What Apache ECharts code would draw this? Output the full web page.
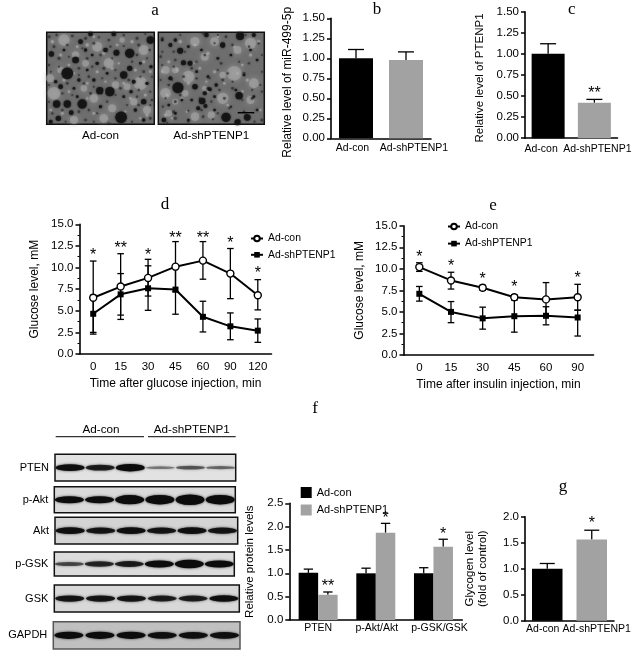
<!DOCTYPE html>
<html>
<head>
<meta charset="utf-8">
<style>
  html, body { margin: 0; padding: 0; background: #fff; }
  #main { width: 633px; height: 656px; }
</style>
</head>
<body>
<div id="main"></div>
<script src="https://cdn.jsdelivr.net/npm/echarts@6/dist/echarts.min.js"></script>
<script>
const groups = ['Ad-con', 'Ad-shPTENP1'];

// b, c, g: simple two bar panels
const bMeans = [1.0, 0.98], bTops = [1.11, 1.08];
const cMeans = [1.0, 0.42], cTops = [1.12, 0.46];
const gMeans = [1.0, 1.56], gTops = [1.1, 1.74];

// d: glucose tolerance
const dTimes = ['0', '15', '30', '45', '60', '90', '120'];
const dCon = [6.5, 7.8, 8.8, 10.1, 10.8, 9.3, 6.8];
const dConHi = [10.75, 11.6, 10.95, 13.0, 13.0, 12.2, 8.6];
const dConLo = [2.3, 4.0, 6.7, 7.2, 8.65, 6.4, 5.1];
const dSh = [4.65, 6.9, 7.6, 7.45, 4.3, 3.2, 2.7];
const dShHi = [6.8, 9.3, 10.2, 10.3, 6.1, 4.75, 4.05];
const dShLo = [2.5, 4.5, 5.05, 4.6, 2.55, 1.65, 1.35];
const dStars = ['*', '**', '*', '**', '**', '*', '*'];
const dStarLevels = [11.5, 12.35, 11.5, 13.5, 13.5, 12.9, 9.45];

// e: insulin tolerance
const eTimes = ['0', '15', '30', '45', '60', '90'];
const eCon = [10.2, 8.65, 7.8, 6.7, 6.45, 6.7];
const eConHi = [10.7, 9.6, 8.1, 7.0, 8.4, 8.2];
const eConLo = [9.7, 7.65, 7.5, 6.4, 4.55, 5.2];
const eSh = [7.1, 5.0, 4.25, 4.5, 4.55, 4.35];
const eShHi = [7.95, 6.2, 5.55, 6.4, 5.6, 5.2];
const eShLo = [6.25, 3.75, 3.0, 2.65, 3.5, 2.2];
const eStars = ['*', '*', '*', '*', '', '*'];
const eStarLevels = [11.5, 10.4, 8.97, 8, 0, 9.05];

// f: protein levels
const fNames = ['PTEN', 'p-Akt/Akt', 'p-GSK/GSK'];
const fCon = [1.01, 1.0, 1.0], fConTops = [1.09, 1.11, 1.12];
const fSh = [0.54, 1.87, 1.57], fShTops = [0.6, 2.07, 1.73];
const fStars = ['**', '*', '*'], fStarLevels = [0.75, 2.21, 1.87];

// western blot: band strength per lane, 0..1
const blotNames = ['PTEN', 'p-Akt', 'Akt', 'p-GSK', 'GSK', 'GAPDH'];
const blotBands = [
  [0.55, 0.45, 0.65, 0.1, 0.2, 0.15],
  [0.6, 0.6, 0.85, 0.9, 1, 0.9],
  [0.55, 0.5, 0.55, 0.5, 0.55, 0.5],
  [0.25, 0.4, 0.45, 0.6, 0.75, 0.6],
  [0.5, 0.5, 0.5, 0.45, 0.45, 0.55],
  [0.6, 0.6, 0.6, 0.55, 0.55, 0.55]
];
const lanes = ['1', '2', '3', '4', '5', '6'];

// micrographs: spots [x, y, diameter]
const photoDarkA = [[70,130,35],[258,70,28],[320,30,22],[198,185,28],[115,222,28],[168,182,22],[38,222,22],[70,222,22],[232,262,35],[43,265,16],[95,90,20],[22,72,16],[218,68,18],[240,135,22],[258,115,16],[82,248,14],[185,60,14],[110,35,14],[140,12,14],[210,12,14],[105,150,10],[50,170,14],[270,155,12],[150,150,10],[322,110,10],[300,215,16],[262,185,10],[35,155,10],[160,100,10],[130,120,8],[290,100,8],[60,60,8],[170,230,10],[275,240,10],[20,275,12],[300,270,10],[100,200,8],[240,200,8],[90,175,8],[125,60,10],[310,160,10],[190,130,8],[145,75,8]];
const photoLightA = [[30,190,38],[18,145,24],[95,75,22],[195,100,30],[235,30,16],[150,205,26],[290,160,40],[300,60,30],[60,30,34],[215,165,22],[205,235,24],[90,270,24],[180,265,26],[270,215,22],[120,175,20],[250,170,20],[160,50,30],[50,120,20],[125,100,20],[310,240,24]];
const photoDarkB = [[68,173,33],[255,197,22],[215,262,28],[280,262,20],[142,213,20],[120,170,16],[150,190,12],[165,178,12],[85,98,15],[105,100,15],[75,62,18],[45,45,12],[205,45,16],[258,18,24],[155,15,14],[300,15,12],[25,270,14],[130,235,12],[152,228,12],[250,277,18],[185,165,10],[45,145,12],[110,210,8],[125,125,8],[160,140,8],[245,180,8],[20,30,8],[60,30,10],[100,50,8],[140,60,8],[190,85,8],[230,75,8],[290,60,8],[310,90,8],[270,135,8],[180,200,8],[80,210,8],[40,225,8],[60,250,8],[100,270,8],[180,240,8],[300,200,8],[310,240,6],[230,230,6]];
const photoLightB = [[120,35,28],[240,130,44],[100,140,36],[205,135,20],[30,120,24],[180,35,26],[290,40,34],[205,205,34],[30,190,32],[90,190,20],[150,80,24],[60,120,20],[300,160,30],[250,60,24],[120,260,26],[290,210,24],[40,250,20],[170,255,22],[60,215,18],[150,175,16]];
// mid tone mottling shared by both photos
const photoSpecks = [[15,20,9],[38,15,7],[85,18,8],[125,25,9],[165,22,6],[195,30,8],[240,15,7],[280,25,9],[305,12,6],[30,50,8],[70,45,7],[115,55,6],[150,40,8],[200,50,7],[240,48,6],[285,45,9],[318,60,7],[45,85,9],[75,80,6],[130,85,8],[170,75,7],[205,85,6],[280,75,8],[310,85,6],[15,105,7],[45,110,6],[105,115,8],[145,110,7],[180,115,9],[215,120,6],[265,95,7],[300,125,8],[325,140,6],[20,125,6],[105,135,6],[135,140,8],[175,145,6],[215,145,7],[255,150,8],[290,140,6],[15,165,6],[70,160,8],[120,160,7],[150,170,6],[230,175,8],[285,180,7],[320,185,6],[55,190,7],[85,195,6],[140,190,8],[215,195,6],[280,200,7],[325,210,8],[15,215,6],[55,240,7],[105,245,8],[135,240,7],[160,250,6],[190,215,7],[250,225,6],[285,225,7],[320,225,6],[25,250,7],[65,275,6],[125,270,8],[150,275,6],[195,280,7],[265,275,6],[320,265,8]];
const photoPale = [[25,35,10],[50,75,9],[100,50,8],[130,45,10],[180,70,9],[220,45,8],[265,35,10],[300,95,9],[320,125,8],[75,105,8],[160,125,9],[205,115,8],[225,100,7],[275,120,9],[60,150,9],[130,160,8],[185,155,7],[240,160,8],[305,195,9],[75,185,8],[130,205,7],[180,185,7],[260,205,8],[55,250,9],[120,225,8],[150,250,8],[245,245,7],[310,255,9],[20,240,8],[150,20,8],[90,130,7],[290,265,7]];

const SANS = '"Liberation Sans", Arial, sans-serif';
const axisStyle = { lineStyle: { color: '#000', width: 1.6 } };
const GRAY = '#a2a2a2';

const chart = echarts.init(document.getElementById('main'));

const grids = [], xAxes = [], yAxes = [], series = [];

// shift category labels sideways, the figure's labels are not centred on the bars
function shiftedLabels(shifts, size) {
  const rich = {};
  shifts.forEach((s, i) => {
    rich['l' + i] = {
      fontFamily: SANS, fontSize: size, color: '#000',
      padding: s < 0 ? [0, -2 * s, 0, 0] : [0, 0, 0, 2 * s]
    };
  });
  return { formatter: (v, i) => '{l' + i + '|' + v + '}', rich: rich };
}

function addPanel(g, cats, max, step, yName, opt) {
  const idx = grids.length;
  grids.push({ left: g[0], top: g[1], width: g[2], height: g[3], outerBoundsMode: 'none' });
  xAxes.push({
    gridIndex: idx, type: 'category', data: cats,
    axisLine: axisStyle,
    axisTick: opt.xTicks ? { alignWithLabel: true, length: 4, lineStyle: { color: '#000', width: 1.5 } } : { show: false },
    axisLabel: Object.assign({
      interval: 0, margin: opt.xMargin, fontFamily: SANS, fontSize: opt.xSize, color: '#000', hideOverlap: false
    }, opt.shifts ? shiftedLabels(opt.shifts, opt.xSize) : {}),
    name: opt.xName, nameLocation: 'middle', nameGap: 24, nameMoveOverlap: false,
    nameTextStyle: { fontFamily: SANS, fontSize: 12, color: '#000' }
  });
  yAxes.push({
    gridIndex: idx, type: 'value', min: 0, max: max, interval: step,
    axisLine: Object.assign({ show: true }, axisStyle),
    axisTick: { show: true, length: 4, lineStyle: { color: '#000', width: 1.5 } },
    minorTick: { show: !!opt.minor, splitNumber: 2, length: 2, lineStyle: { color: '#000', width: 1 } },
    splitLine: { show: false },
    axisLabel: { margin: 6, fontFamily: SANS, fontSize: 11.5, color: '#000', formatter: v => v.toFixed(opt.digits) },
    name: yName, nameLocation: 'middle', nameGap: opt.nameGap, nameRotate: 90, nameMoveOverlap: false,
    nameTextStyle: {
      fontFamily: SANS, fontSize: opt.nameSize || 11.5, color: '#000', lineHeight: 12.5,
      padding: opt.namePad || 0
    }
  });
  return idx;
}

function errorBars(idx, hi, lo, cap, dx, bothCaps) {
  series.push({
    type: 'custom', xAxisIndex: idx, yAxisIndex: idx, silent: true, z: 2,
    data: hi.map((h, i) => [i, h, lo[i]]),
    encode: { x: 0, y: [1, 2] },
    renderItem: (params, api) => {
      const top = api.coord([api.value(0), api.value(1)]);
      const bottom = api.coord([api.value(0), api.value(2)]);
      const x = top[0] + dx, style = { stroke: '#000', lineWidth: 1.3 };
      const kids = [
        { type: 'line', shape: { x1: x, y1: top[1], x2: x, y2: bottom[1] }, style: style },
        { type: 'line', shape: { x1: x - cap / 2, y1: top[1], x2: x + cap / 2, y2: top[1] }, style: style }
      ];
      if (bothCaps) kids.push({ type: 'line', shape: { x1: x - cap / 2, y1: bottom[1], x2: x + cap / 2, y2: bottom[1] }, style: style });
      return { type: 'group', children: kids };
    }
  });
}

function starMarks(idx, labels, levels, dxs) {
  series.push({
    type: 'custom', xAxisIndex: idx, yAxisIndex: idx, silent: true, z: 5,
    data: levels.map((v, i) => [i, v]),
    encode: { x: 0, y: 1 },
    renderItem: (params, api) => {
      const p = api.coord([api.value(0), api.value(1)]);
      return {
        type: 'text',
        style: {
          text: labels[params.dataIndex], x: p[0] + (dxs ? dxs[params.dataIndex] : 0), y: p[1] + 1.5,
          textAlign: 'center', textVerticalAlign: 'middle',
          font: '16px ' + SANS, fill: '#000'
        }
      };
    }
  });
}

function twoBars(idx, means, tops, width, cap) {
  series.push({
    type: 'bar', xAxisIndex: idx, yAxisIndex: idx, barWidth: width, silent: true,
    data: means.map((v, i) => ({ value: v, itemStyle: { color: i ? GRAY : '#000' } }))
  });
  errorBars(idx, tops, means, cap, 0, false);
}

function lineSeries(idx, name, vals, hollow) {
  series.push({
    type: 'line', name: name, xAxisIndex: idx, yAxisIndex: idx, data: vals, z: 4, silent: true,
    symbol: hollow ? 'circle' : 'rect', symbolSize: hollow ? 7 : 6, showAllSymbol: true,
    lineStyle: { color: '#000', width: 2 },
    itemStyle: hollow ? { color: '#fff', borderColor: '#000', borderWidth: 1.4 } : { color: '#000' }
  });
}

// panel d
const pd = addPanel([79.5, 224.3, 192, 129.7], dTimes, 15, 2.5, 'Glucose level, mM',
  { digits: 1, nameGap: 39, nameSize: 12, minor: true, xTicks: true, xMargin: 7, xSize: 11.5, xName: 'Time after glucose injection, min' });
lineSeries(pd, groups[0], dCon, true);
lineSeries(pd, groups[1], dSh, false);
errorBars(pd, dConHi, dConLo, 6.6, 0, true);
errorBars(pd, dShHi, dShLo, 6.6, 0, true);
starMarks(pd, dStars, dStarLevels);

// panel e
const pe = addPanel([403.5, 225.7, 190, 129.3], eTimes, 15, 2.5, 'Glucose level, mM',
  { digits: 1, nameGap: 38, nameSize: 12, minor: true, xTicks: true, xMargin: 7, xSize: 11.5, xName: 'Time after insulin injection, min' });
lineSeries(pe, groups[0], eCon, true);
lineSeries(pe, groups[1], eSh, false);
errorBars(pe, eConHi, eConLo, 6.6, 0, true);
errorBars(pe, eShHi, eShLo, 6.6, 0, true);
starMarks(pe, eStars, eStarLevels);

// panel b
const pb = addPanel([331, 18.3, 100, 120], groups, 1.5, 0.25, 'Relative level of miR-499-5p',
  { digits: 2, nameGap: 37, nameSize: 12, namePad: [0, 8, 0, 0], xMargin: 4, xSize: 10.5, shifts: [-3.5, 8] });
twoBars(pb, bMeans, bTops, 34, 16);

// panel c
const pc = addPanel([525, 11.7, 92.5, 126.5], groups, 1.5, 0.25, 'Relative level of PTENP1',
  { digits: 2, nameGap: 39, namePad: [0, 6, 0, 0], xMargin: 5, xSize: 10.5, shifts: [-7, 3] });
twoBars(pc, cMeans, cTops, 33, 16);
starMarks(pc, ['', '**'], [0, 0.545]);

// panel g
const pg = addPanel([525, 516.7, 89, 104], groups, 2, 0.5, 'Glycogen level\n(fold of control)',
  { digits: 1, nameGap: 36, xMargin: 3, xSize: 10.5, shifts: [-4.5, 5] });
twoBars(pg, gMeans, gTops, 30.5, 15);
starMarks(pg, ['', '*'], [0, 1.9]);

// panel f
const pf = addPanel([289.3, 503.3, 173, 116.7], fNames, 2.5, 0.5, 'Relative protein levels',
  { digits: 1, nameGap: 33, xMargin: 3, xSize: 10.5, shifts: [0, 1, 6] });
series.push({ type: 'bar', name: groups[0] + ' (f)', xAxisIndex: pf, yAxisIndex: pf, data: fCon, barWidth: 19.5, barGap: 0, silent: true, itemStyle: { color: '#000' } });
series.push({ type: 'bar', name: groups[1] + ' (f)', xAxisIndex: pf, yAxisIndex: pf, data: fSh, barWidth: 19.5, barGap: 0, silent: true, itemStyle: { color: GRAY } });
errorBars(pf, fConTops, fCon, 9.3, -9.75, false);
errorBars(pf, fShTops, fSh, 9.3, 9.75, false);
starMarks(pf, fStars, fStarLevels, [9.75, 9.75, 9.75]);

// panel a, the two micrographs
function addPhoto(g, label, light, dark, pale, specks) {
  const idx = grids.length;
  grids.push({ show: true, left: g[0], top: g[1], width: g[2], height: g[3], outerBoundsMode: 'none', backgroundColor: '#6e6e6e', borderColor: '#111', borderWidth: 1.5 });
  xAxes.push({
    gridIndex: idx, type: 'value', min: 8, max: 332,
    axisLine: { show: false }, axisTick: { show: false }, axisLabel: { show: false }, splitLine: { show: false },
    name: label, nameLocation: 'middle', nameGap: 5, nameMoveOverlap: false,
    nameTextStyle: { fontFamily: SANS, fontSize: 11.7, color: '#000' }
  });
  yAxes.push({
    gridIndex: idx, type: 'value', min: 7, max: 283, inverse: true,
    axisLine: { show: false }, axisTick: { show: false }, axisLabel: { show: false }, splitLine: { show: false }
  });
  const layer = (data, z, color, opacity, blur) => series.push({
    type: 'scatter', xAxisIndex: idx, yAxisIndex: idx, data: data, silent: true, z: z,
    symbolSize: v => v[2] / 3,
    itemStyle: { color: color, opacity: opacity, shadowBlur: blur, shadowColor: color }
  });
  layer(light, 1, '#a8a8a8', 0.6, 6);
  layer(pale, 2, '#b4b4b4', 0.55, 3);
  layer(specks, 3, '#303030', 0.7, 2);
  layer(dark, 4, '#141414', 0.9, 2);
}
addPhoto([46.7, 32.3, 107.6, 92], groups[0], photoLightA, photoDarkA, photoPale, photoSpecks);
addPhoto([158.3, 32.3, 106, 92], groups[1], photoLightB, photoDarkB,
  photoPale.map(p => [340 - p[0], p[1], p[2]]), photoSpecks.map(p => [340 - p[0], 290 - p[1], p[2]]));

// panel f left side, blots
const blotFrames = [
  [55, 454.3, 180.7, 26.7], [54.3, 486.7, 181, 26], [55, 517.3, 182.7, 26.7],
  [54.3, 552, 180, 24], [54.3, 585, 185, 27], [53.3, 621.7, 186.7, 27.3]
];
const blotBg = ['#e2e2e2', '#dadada', '#d4d4d4', '#dcdcdc', '#d8d8d8', '#c0c0c0'];
blotNames.forEach((name, r) => {
  const idx = grids.length, f = blotFrames[r];
  grids.push({ show: true, left: f[0], top: f[1], width: f[2], height: f[3], outerBoundsMode: 'none', backgroundColor: blotBg[r], borderColor: r === 5 ? '#555' : '#111', borderWidth: 1.5 });
  xAxes.push({ gridIndex: idx, type: 'category', data: lanes, show: false });
  yAxes.push({
    gridIndex: idx, type: 'category', data: [name],
    axisLine: { show: false }, axisTick: { show: false }, splitLine: { show: false },
    axisLabel: { margin: 6, fontFamily: SANS, fontSize: 11, color: '#000' }
  });
  series.push({
    type: 'scatter', xAxisIndex: idx, yAxisIndex: idx, silent: true,
    data: blotBands[r].map((s, i) => ({
      value: [i, 0, s],
      itemStyle: { opacity: Math.min(1, 0.25 + s * 1.3) }
    })),
    symbolSize: v => [29, 2 + v[2] * 8.5],
    itemStyle: { color: '#0c0c0c', shadowBlur: 2.5, shadowColor: '#333' }
  });
});

const panelLetters = ['a', 'b', 'c', 'd', 'e', 'f', 'g'];
const letterSpots = [[155, 2], [377, 1], [571.7, 1], [165, 196], [493, 197], [315, 400], [563, 478]];

const option = {
  backgroundColor: '#fff',
  animation: false,
  title: panelLetters.map((t, i) => ({
    text: t, left: letterSpots[i][0], top: letterSpots[i][1], textAlign: 'center', padding: 0,
    textStyle: { fontFamily: '"Liberation Serif", serif', fontSize: 17, fontWeight: 'normal', color: '#000' }
  })),
  legend: [
    { data: groups, left: 250, top: 233.5, orient: 'vertical', itemWidth: 12, itemHeight: 7, itemGap: 6.3, padding: 0, selectedMode: false,
      textStyle: { fontFamily: SANS, fontSize: 10.4, color: '#000' } },
    { data: groups, left: 447, top: 221.5, orient: 'vertical', itemWidth: 12, itemHeight: 7, itemGap: 7.1, padding: 0, selectedMode: false,
      textStyle: { fontFamily: SANS, fontSize: 10.4, color: '#000' } },
    { data: groups.map(g => ({ name: g + ' (f)', icon: 'rect' })), left: 300.7, top: 487, orient: 'vertical', itemWidth: 11, itemHeight: 11, itemGap: 6.5, padding: 0, selectedMode: false,
      formatter: n => n.replace(' (f)', ''),
      textStyle: { fontFamily: SANS, fontSize: 11, color: '#000' } }
  ],
  grid: grids,
  xAxis: xAxes,
  yAxis: yAxes,
  series: series,
  graphic: [
    { type: 'line', shape: { x1: 55.7, y1: 436.7, x2: 144, y2: 436.7 }, style: { stroke: '#333', lineWidth: 1.3 } },
    { type: 'line', shape: { x1: 148, y1: 436.7, x2: 235.7, y2: 436.7 }, style: { stroke: '#333', lineWidth: 1.3 } },
    { type: 'text', style: { text: groups[0], x: 101, y: 430, textAlign: 'center', textVerticalAlign: 'middle', font: '11.7px ' + SANS, fill: '#000' } },
    { type: 'text', style: { text: groups[1], x: 191.7, y: 430, textAlign: 'center', textVerticalAlign: 'middle', font: '11.7px ' + SANS, fill: '#000' } },
    // scale bar on the right micrograph
    { type: 'line', z: 50, shape: { x1: 237.7, y1: 112.7, x2: 254.3, y2: 112.7 }, style: { stroke: '#000', lineWidth: 1.5 } }
  ]
};

chart.setOption(option);
window.addEventListener('resize', () => { chart.resize(); });
</script>
</body>
</html>
